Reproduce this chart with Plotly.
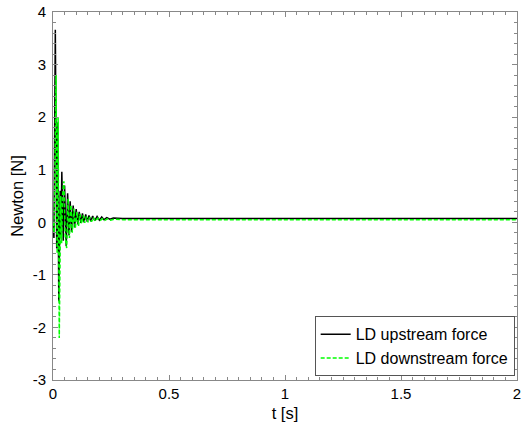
import plotly.graph_objects as go

# Upstream force (black, solid): turning points
t_up = [0.0, 0.004, 0.010, 0.016, 0.020, 0.025, 0.031, 0.034, 0.038, 0.044, 0.050, 0.057,
        0.063, 0.069, 0.074, 0.080, 0.087, 0.093, 0.100, 0.107, 0.113, 0.120, 0.127, 0.134,
        0.141, 0.148, 0.155, 0.163, 0.171, 0.180, 0.190, 0.200, 0.210, 0.220, 0.232, 0.245, 0.260, 0.300, 2.0]
f_up = [0.0, -0.3, 3.66, -0.5, 1.9, -1.5, 0.6, -0.3, 0.96, -0.35, 0.7, -0.45,
        0.55, -0.25, 0.40, -0.18, 0.32, -0.10, 0.25, -0.04, 0.20, -0.01, 0.17, 0.0,
        0.15, 0.01, 0.13, 0.02, 0.12, 0.03, 0.11, 0.04, 0.10, 0.05, 0.09, 0.06, 0.08, 0.07, 0.07]

# Downstream force (green, dashed)
t_dn = [0.0, 0.005, 0.013, 0.018, 0.022, 0.027, 0.033, 0.037, 0.041, 0.047, 0.053, 0.059,
        0.065, 0.071, 0.077, 0.083, 0.090, 0.096, 0.103, 0.110, 0.116, 0.123, 0.130, 0.137,
        0.144, 0.151, 0.158, 0.166, 0.174, 0.183, 0.193, 0.203, 0.213, 0.223, 0.235, 0.248, 0.263, 0.300, 2.0]
f_dn = [0.0, -0.2, 2.8, -0.6, 2.0, -2.2, 0.5, -0.4, 0.5, 0.78, -0.3, -0.49,
        0.45, -0.3, 0.33, -0.2, 0.26, -0.12, 0.20, -0.07, 0.16, -0.03, 0.13, -0.01,
        0.11, 0.0, 0.10, 0.01, 0.09, 0.02, 0.08, 0.03, 0.07, 0.035, 0.065, 0.04, 0.06, 0.05, 0.05]

x_ticks = [0, 0.5, 1, 1.5, 2]
x_tick_labels = ["0", "0.5", "1", "1.5", "2"]
y_ticks = [-3, -2, -1, 0, 1, 2, 3, 4]
y_tick_labels = ["-3", "-2", "-1", "0", "1", "2", "3", "4"]

font_family = "Liberation Sans, Arial, sans-serif"

fig = go.Figure()
fig.add_trace(go.Scatter(x=t_up, y=f_up, mode="lines", name="LD upstream force",
                         line=dict(color="black", width=1.5)))
fig.add_trace(go.Scatter(x=t_dn, y=f_dn, mode="lines", name="LD downstream force",
                         line=dict(color="#00ff00", width=1.5, dash="4px,2px")))

axis_common = dict(showgrid=False, zeroline=False, showline=True, linecolor="#888888",
                   linewidth=1, mirror="ticks", ticks="inside", ticklen=5, tickcolor="#888888",
                   automargin=False, ticklabeloverflow="allow",
                   tickfont=dict(family=font_family, size=15, color="black"))

fig.update_layout(
    width=522, height=430,
    margin=dict(l=53, r=5, t=12, b=50),
    plot_bgcolor="white", paper_bgcolor="white",
    font=dict(family=font_family, size=15, color="black"),
    xaxis=dict(range=[0, 2], tickvals=x_ticks, ticktext=x_tick_labels,
               title=dict(text="t [s]", standoff=6, font=dict(size=16.5)),
               minor=dict(dtick=0.05, ticks="inside", ticklen=3, tickcolor="#888888"),
               **axis_common),
    yaxis=dict(range=[-3, 4], tickvals=y_ticks, ticktext=y_tick_labels,
               title=dict(text="Newton [N]", standoff=4, font=dict(size=16.5)),
               ticklabelstandoff=3,
               minor=dict(dtick=0.2, ticks="inside", ticklen=3, tickcolor="#888888"),
               **axis_common),
    legend=dict(x=0.995, y=0.01, xanchor="right", yanchor="bottom",
                bgcolor="white", bordercolor="#555555", borderwidth=1, itemwidth=30,
                font=dict(family=font_family, size=16), tracegroupgap=2),
    showlegend=True,
)

fig.write_html("out.html")
